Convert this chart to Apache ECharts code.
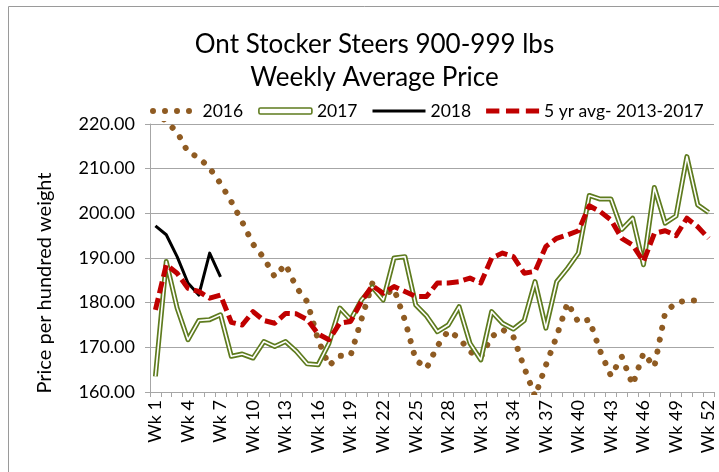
<!DOCTYPE html>
<html><head><meta charset="utf-8">
<script src="https://cdn.jsdelivr.net/npm/echarts@6/dist/echarts.min.js"></script>
<style>html,body{margin:0;padding:0;background:#fff}#c{width:719px;height:472px}</style>
</head><body><div id="c"></div>
<script>
const categories = ["Wk 1","Wk 2","Wk 3","Wk 4","Wk 5","Wk 6","Wk 7","Wk 8","Wk 9","Wk 10",
"Wk 11","Wk 12","Wk 13","Wk 14","Wk 15","Wk 16","Wk 17","Wk 18","Wk 19","Wk 20",
"Wk 21","Wk 22","Wk 23","Wk 24","Wk 25","Wk 26","Wk 27","Wk 28","Wk 29","Wk 30",
"Wk 31","Wk 32","Wk 33","Wk 34","Wk 35","Wk 36","Wk 37","Wk 38","Wk 39","Wk 40",
"Wk 41","Wk 42","Wk 43","Wk 44","Wk 45","Wk 46","Wk 47","Wk 48","Wk 49","Wk 50",
"Wk 51","Wk 52"];
const y2016 = [223,220.5,218.2,213.7,212.5,210.1,206.7,202.6,198.1,193.1,
190,185.8,188.6,183.4,180.2,171.7,165.9,168.1,168.2,176.3,
184.3,181.5,183.1,176.1,167.2,165.3,170.3,173.7,172.1,169,
167.8,172.4,174,172.4,165.5,159,166,172.5,180,175.6,
176.2,169.2,163.6,167.9,161.6,168.7,165.6,177.8,180,180.5,
180.5,null];
const y2017 = [163.5,189.2,178.8,171.7,176,176.2,177.3,168,168.5,167.6,
171.3,170.2,171.3,169.1,166.3,166.1,170.9,178.8,176.2,180.6,
183.5,180.6,190,190.3,179.5,177,173.5,175,179.1,170.9,
167.2,178,175.4,174.1,176,184.7,174.3,184.7,187.7,191.1,
204,203.2,203.2,196.4,198.9,188.5,205.8,197.8,199.4,212.7,
201.9,200.2];
const y2018 = [197.2,195.2,190.3,184.4,181.7,191.1,185.8];
const avg5yr = [178.4,188.5,186.6,183.2,182.5,181,181.7,175.6,175,178,
176,175.4,177.6,177.5,176.2,173,171.7,175.4,175.8,180.3,
183.8,182.1,183.6,182.5,181.4,181.4,184.4,184.4,184.7,185.5,
184.4,190,191.1,190.3,186.6,187,192.6,194.4,195.2,196.1,
201.7,200.4,198.5,194.4,192.9,189.2,195.5,196.1,195,198.9,
197,194.4];
const yMin = 160, yMax = 220, yStep = 10;
const seriesNames = ["2016","2017","2018","5 yr avg- 2013-2017"];

const FONT = 'Lato';
const C16 = '#8F5B22', C17 = '#5E7B1E', C18 = '#000000', CAVG = '#C00000';
const GRID = '#A6A6A6';

const chart = echarts.init(document.getElementById('c'), null, {renderer: 'canvas'});
chart.setOption({
  animation: false,
  backgroundColor: '#fff',
  textStyle: {fontFamily: FONT},
  grid: {left: 150, right: 5, top: 124, bottom: 80, containLabel: false, outerBoundsMode: 'none'},
  legend: {
    left: 150, top: 102, width: 620, itemWidth: 53, itemHeight: 6, itemGap: 15, padding: 0,
    textStyle: {fontFamily: FONT, fontSize: 17.5, color: '#000'},
    data: [
      {name: seriesNames[0], icon: 'path://M0,3a3,3 0 1,0 6,0a3,3 0 1,0 -6,0zM12,3a3,3 0 1,0 6,0a3,3 0 1,0 -6,0zM24,3a3,3 0 1,0 6,0a3,3 0 1,0 -6,0zM36,3a3,3 0 1,0 6,0a3,3 0 1,0 -6,0z', itemStyle: {color: C16}},
      {name: seriesNames[1], icon: 'roundRect', itemStyle: {color: '#fff', borderColor: C17, borderWidth: 1.6}},
      {name: seriesNames[2], icon: 'path://M0,0h53v3h-53z', itemStyle: {color: C18}},
      {name: seriesNames[3], icon: 'path://M0,0h13v5h-13zM19.5,0h13v5h-13zM39,0h13v5h-13z', itemStyle: {color: CAVG}}
    ]
  },
  xAxis: {
    type: 'category', data: categories, boundaryGap: true,
    axisLine: {show: true, lineStyle: {color: GRID, width: 1}},
    axisTick: {show: true, interval: 0, length: 5, lineStyle: {color: GRID}},
    axisLabel: {interval: 2, rotate: 90, fontSize: 18, color: '#000', fontFamily: FONT, margin: 8},
    splitLine: {show: false}
  },
  yAxis: {
    type: 'value', min: yMin, max: yMax, interval: yStep,
    axisLine: {show: true, lineStyle: {color: GRID, width: 1}},
    axisTick: {show: true, length: 5, lineStyle: {color: GRID}},
    axisLabel: {formatter: v => v.toFixed(2), fontSize: 18, color: '#000', fontFamily: FONT, margin: 15},
    splitLine: {show: true, lineStyle: {color: GRID, width: 1}}
  },
  series: [
    {name: seriesNames[0], type: 'line', data: y2016, symbol: 'none', showSymbol: false, color: C16, clip: true,
     lineStyle: {width: 6, type: [0.1, 12], cap: 'round', color: C16}},
    {name: seriesNames[1], type: 'line', data: y2017, symbol: 'none', showSymbol: false, color: C17,
     lineStyle: {width: 5, color: C17, join: 'round'}},
    {name: '2017 inner', type: 'line', data: y2017, symbol: 'none', showSymbol: false, color: '#fff', silent: true,
     lineStyle: {width: 1.6, color: '#fff', join: 'round'}},
    {name: seriesNames[2], type: 'line', data: y2018, symbol: 'none', showSymbol: false, color: C18,
     lineStyle: {width: 3, color: C18, join: 'round'}},
    {name: seriesNames[3], type: 'line', data: avg5yr, symbol: 'none', showSymbol: false, color: CAVG,
     lineStyle: {width: 5, type: [12, 5], color: CAVG, join: 'round'}}
  ],
  graphic: [
    {type: 'rect', shape: {x: 8.5, y: 6.5, width: 720, height: 480}, style: {fill: null, stroke: '#9A9A9A', lineWidth: 1}, silent: true},
    {type: 'text', x: 374.5, y: 45, style: {text: 'Ont Stocker Steers 900-999 lbs', font: '26px Lato', fill: '#000', textAlign: 'center', textVerticalAlign: 'middle'}},
    {type: 'text', x: 374.5, y: 78, style: {text: 'Weekly Average Price', font: '26px Lato', fill: '#000', textAlign: 'center', textVerticalAlign: 'middle'}},
    {type: 'text', x: 45, y: 283, rotation: Math.PI / 2, style: {text: 'Price per hundred weight', font: '20px Lato', fill: '#000', textAlign: 'center', textVerticalAlign: 'middle'}}
  ]
});
</script></body></html>
